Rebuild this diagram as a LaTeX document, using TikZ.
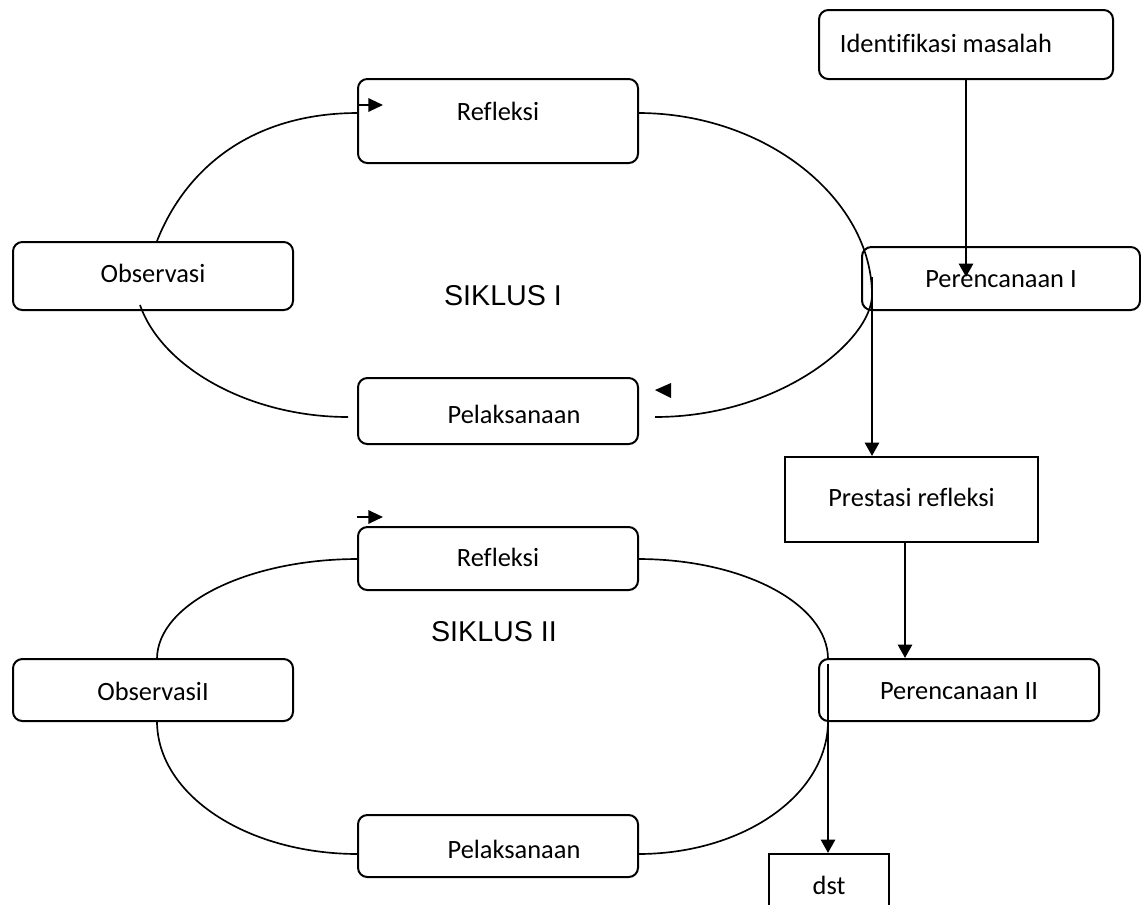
\documentclass[tikz,border=0pt]{standalone}
\usepackage{fontspec}
\setmainfont{Carlito}[Ligatures=NoCommon]
\newfontfamily\arialf{Liberation Sans}
\usetikzlibrary{arrows.meta}
\begin{document}
\begin{tikzpicture}[x=0.75pt,y=-0.75pt,
  box/.style={draw, line width=1.5pt, rounded corners=7pt, inner sep=0pt,
    font=\fontsize{19.8}{23}\selectfont, minimum width=210pt},
  sbox/.style={draw, line width=1.5pt, inner sep=0pt,
    font=\fontsize{19.8}{23}\selectfont},
  tv/.style={text height=#1, text depth=0pt},
  cyc/.style={line width=1.25pt},
  arr/.style={line width=2pt, -{Triangle[width=10.5pt,length=10pt]}},
  sarr/.style={line width=1.6pt, -{Triangle[width=10pt,length=11pt]}},
  siklus/.style={font=\arialf\fontsize{21.5}{25}\selectfont, inner sep=0pt}]
\useasboundingbox (0,0) rectangle (1141,904);
\clip (0,0) rectangle (1141,904);

% boxes
\node[box, minimum width=220.5pt, minimum height=51.75pt, tv=11.25pt] (idm) at (966,44.5) {Identifikasi masalah\hspace*{30pt}};
\node[box, minimum height=63pt, text height=12pt, text depth=13.5pt] (r1) at (498,121) {Refleksi};
\node[box, minimum width=208.5pt, minimum height=47.25pt, tv=12.75pt] (p1) at (1001,278.5) {Perencanaan I};
\node[box, minimum height=51pt, tv=9pt] (o1) at (153,276) {Observasi};
\node[box, minimum height=49.5pt, tv=18pt] (l1) at (498,411) {\hspace*{24pt}Pelaksanaan};
\node[sbox, minimum width=189.75pt, minimum height=63.75pt, tv=9.75pt] (pr) at (911.5,499.5) {Prestasi refleksi};
\node[box, minimum height=47.25pt, tv=11.25pt] (r2) at (498,558.5) {Refleksi};
\node[box, minimum height=46.5pt, tv=15pt] (o2) at (153,690) {ObservasiI};
\node[box, minimum height=46.5pt, tv=13.5pt] (p2) at (959,690) {Perencanaan II};
\node[box, minimum height=46.5pt, tv=18pt] (l2) at (498,846) {\hspace*{24pt}Pelaksanaan};
\node[sbox, minimum width=90pt, minimum height=60pt, text height=6pt, text depth=6pt] (dst) at (829,894) {dst};

% cycle labels
\node[siklus] (s1) at (503,296) {SIKLUS I};
\node[siklus] (s2) at (494,632) {SIKLUS II};

% cycle I
\draw[cyc] (358,113) .. controls (250,113) and (185,170) .. (157,241);
\draw[cyc] (140,305) .. controls (162,368) and (250,417) .. (348,417);
\draw[cyc] (638,113) .. controls (767,113) and (872,200) .. (872,295)
  .. controls (872,340) and (780,417) .. (655,417);
\fill (655,390) -- (671,383) -- (671,398) -- cycle;

% cycle II
\draw[cyc] (358,559) .. controls (248,559) and (157,604) .. (157,659);
\draw[cyc] (157,721) .. controls (157,795) and (247,854) .. (358,854);
\draw[cyc] (638,559) .. controls (743,559) and (828,604) .. (828,659);
\draw[cyc] (828,721) .. controls (828,795) and (743,854) .. (638,854);

% coordinates
\coordinate (t1) at (966,277);
\coordinate (c1) at (872,277);
\coordinate (x1) at (905,0);
\coordinate (c2) at (828,664);
\coordinate (e1) at (383,105);
\coordinate (e2) at (383,517);

% connectors
\draw[arr] (idm.south) -- (t1);
\draw[arr] (c1) -- (c1 |- pr.north);
\draw[arr] (pr.south -| x1) -- (x1 |- p2.north);
\draw[arr] (c2) -- (c2 |- dst.north);
\draw[sarr] (e1 -| r1.west) -- (e1);
\draw[sarr] (e2 -| r2.west) -- (e2);
\end{tikzpicture}
\end{document}
